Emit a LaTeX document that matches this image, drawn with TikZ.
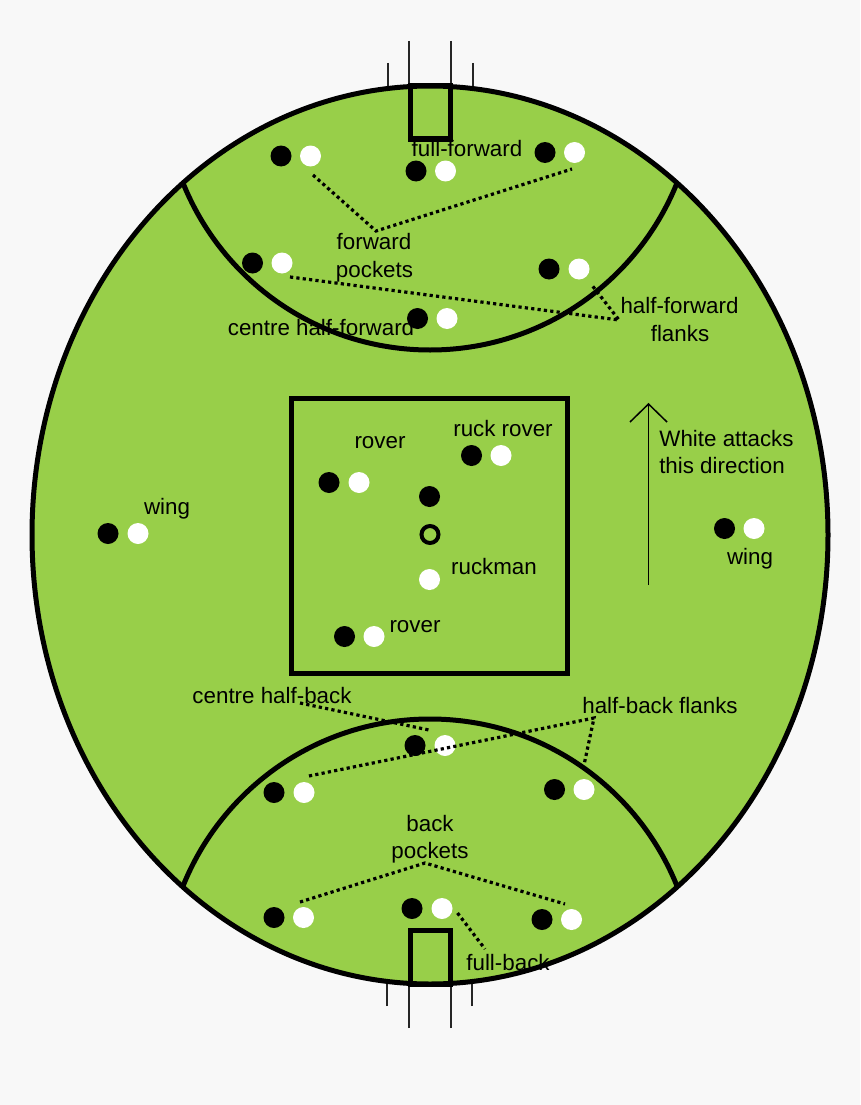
\documentclass[tikz,border=0pt]{standalone}
\usepackage{fontspec}
\setmainfont{Liberation Sans}
\definecolor{pagebg}{HTML}{F8F8F8}
\definecolor{turf}{HTML}{98CF49}
\tikzset{
  boundary/.style={draw=black,line width=5pt},
  post/.style={draw=black!85,line width=1.5pt},
  guide/.style={draw=black,line width=3.2pt,dash pattern=on 3.2pt off 3.2pt},
  lbl/.style={inner sep=0pt,anchor=base,font=\fontsize{22.35}{26}\selectfont},
  blackdot/.style={circle,fill=black,minimum size=21pt,inner sep=0pt},
  whitedot/.style={circle,fill=white,minimum size=21pt,inner sep=0pt},
}
\begin{document}
\begin{tikzpicture}[x=1pt,y=-1pt]
\useasboundingbox (0,0) rectangle (860,1105);
\fill[pagebg] (0,0) rectangle (860,1105);

% goal and behind posts
\foreach \px/\py in {388/63,473/63,409/41,451/41,387/1006,472/1006,409/1028,451/1028}
  \draw[post] (\px,\py) -- (\px,535);

% oval playing field
\fill[turf] (430,535) ellipse [x radius=398,y radius=449];

% goal squares and 50 metre arcs, kept inside the oval
\begin{scope}
  \clip (430,535) ellipse [x radius=398,y radius=449];
  \draw[boundary] (430,84) circle [radius=266];
  \draw[boundary] (430,985) circle [radius=266];
\end{scope}
\draw[boundary] (410.5,86) rectangle (450.5,139);
\draw[boundary] (410.5,930) rectangle (450.5,984);
\draw[boundary] (430,535) ellipse [x radius=398,y radius=449];

% centre square
\draw[boundary] (291,398) rectangle (567,673);

% players: one black and one white at each position
\foreach \n/\bx/\wx/\py in {
  a/281/310.5/156, b/416/445.5/171, c/545/574.5/152.5,
  d/252.5/282/263, e/549/579/269, f/417.5/447/318.5,
  g/329/359/482.5, h/471.5/501/455.5, i/344.5/374/636.5,
  j/108/138/533.5, k/724.5/754/528.5,
  l/415/445/745.5, m/274/304/792.5, n/554.5/584/789.5,
  o/274/303.5/917.5, p/412/442/908.5, q/542/571.5/919.5}
{
  \node[blackdot] (b\n) at (\bx,\py) {};
  \node[whitedot] (w\n) at (\wx,\py) {};
}
\node[blackdot] (ruckblack) at (429.5,496.5) {};
\node[whitedot] (ruckwhite) at (429.5,579.5) {};
\node[circle,draw=black,line width=4pt,minimum size=17pt,inner sep=0pt] (centrering) at (430,534.5) {};

% guide lines from labels to players
\coordinate (fpa) at (313,175);
\coordinate (fpb) at (376,231);
\coordinate (fpc) at (572,169);
\coordinate (hfa) at (290,277);
\coordinate (hfb) at (619,320);
\coordinate (hfc) at (591,284);
\coordinate (chba) at (300,703);
\coordinate (chbb) at (429,730);
\coordinate (hba) at (309,776);
\coordinate (hbb) at (594,718);
\coordinate (hbc) at (584,765);
\coordinate (bpa) at (300,902);
\coordinate (bpb) at (425,863);
\coordinate (bpc) at (565,904);
\coordinate (fba) at (457.5,913);
\coordinate (fbb) at (485,949);
\draw[guide] (fpa) -- (fpb) -- (fpc);
\draw[guide] (hfa) -- (hfb) -- (hfc);
\draw[guide] (chba) -- (chbb);
\draw[guide] (hba) -- (hbb) -- (hbc);
\draw[guide] (bpa) -- (bpb) -- (bpc);
\draw[guide] (fba) -- (fbb);

% direction of attack
\coordinate (arrowtail) at (648.5,585);
\coordinate (arrowtip) at (648.5,404);
\coordinate (arrowleft) at (630,422);
\coordinate (arrowright) at (667,422);
\draw[black,line width=1.5pt] (arrowtail) -- (arrowtip);
\draw[black,line width=1.5pt] (arrowleft) -- (arrowtip) -- (arrowright);

% position labels
\node[lbl] (t1) at (467,157) {full-forward};
\node[lbl] (t2) at (374,249) {forward};
\node[lbl] (t3) at (374.5,277) {pockets};
\node[lbl] (t4) at (321,335) {centre half-forward};
\node[lbl] (t5) at (679.5,313) {half-forward};
\node[lbl] (t6) at (680,341) {flanks};
\node[lbl] (t7) at (380,448) {rover};
\node[lbl] (t8) at (503,436) {ruck rover};
\node[lbl] (t9) at (726.5,446) {White attacks};
\node[lbl] (t10) at (722,473) {this direction};
\node[lbl] (t11) at (167,514) {wing};
\node[lbl] (t12) at (750,564) {wing};
\node[lbl] (t13) at (494,574) {ruckman};
\node[lbl] (t14) at (415,632) {rover};
\node[lbl] (t15) at (272,703) {centre half-back};
\node[lbl] (t16) at (660,713) {half-back flanks};
\node[lbl] (t17) at (430,831) {back};
\node[lbl] (t18) at (430,858) {pockets};
\node[lbl] (t19) at (508,970) {full-back};
\end{tikzpicture}
\end{document}
